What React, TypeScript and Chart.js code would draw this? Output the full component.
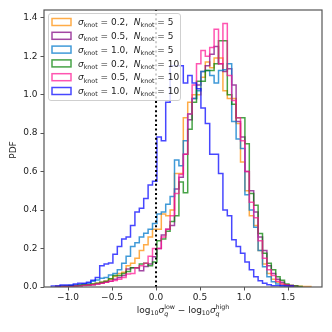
import React, { useEffect, useRef } from 'react';
import { Chart, registerables } from 'chart.js';

Chart.register(...registerables);

// ---------------- data ----------------
const BIN_WIDTH = 0.05;
const MAIN_START = -1.14; // first bin edge of the five narrower runs
const BLUE_START = -1.19; // first bin edge of sigma=1.0, N=10

const SIGMA_KNOT = ['0.2', '0.5', '1.0', '0.2', '0.5', '1.0'];
const N_KNOT = ['5', '5', '5', '10', '10', '10'];

const X_TICKS = [-1.0, -0.5, 0.0, 0.5, 1.0, 1.5];
const Y_TICKS = [0.0, 0.2, 0.4, 0.6, 0.8, 1.0, 1.2, 1.4];
const X_MIN = -1.273;
const X_MAX = 1.886;
const Y_MAX = 1.44;
const REF_LINE_X = 0.0;

const S02_N5 = [
  0.002, 0.003, 0.005, 0.005, 0.008, 0.01, 0.01, 0.012, 0.015, 0.02,
  0.025, 0.03, 0.04, 0.054, 0.07, 0.077, 0.11, 0.124, 0.15, 0.19,
  0.22, 0.26, 0.3, 0.3, 0.38, 0.37, 0.4, 0.59, 0.59, 0.88,
  0.96, 1.0, 1.0, 1.09, 1.17, 1.14, 1.19, 1.19, 1.02, 0.98,
  0.98, 0.85, 0.65, 0.5, 0.37, 0.32, 0.19, 0.12, 0.07, 0.04,
  0.025, 0.015, 0.01, 0.008, 0.005, 0.004, 0.003, 0.003,
];
const S05_N5 = [
  0.002, 0.003, 0.004, 0.005, 0.006, 0.008, 0.01, 0.01, 0.012, 0.015,
  0.02, 0.025, 0.03, 0.04, 0.05, 0.06, 0.094, 0.1, 0.1, 0.085,
  0.106, 0.12, 0.157, 0.2, 0.27, 0.3, 0.32, 0.51, 0.57, 0.69,
  0.87, 0.98, 1.05, 1.12, 1.15, 1.21, 1.25, 1.16, 1.12, 1.135,
  1.05, 0.86, 0.78, 0.6, 0.5, 0.39, 0.26, 0.19, 0.11, 0.07,
  0.04, 0.025, 0.012, 0.008, 0.005,
];
const S10_N5 = [
  0.003, 0.005, 0.005, 0.008, 0.01, 0.012, 0.015, 0.02, 0.03, 0.037,
  0.045, 0.05, 0.063, 0.07, 0.09, 0.124, 0.16, 0.21, 0.23, 0.26,
  0.28, 0.3, 0.33, 0.38, 0.39, 0.43, 0.47, 0.66, 0.63, 0.76,
  0.9, 0.98, 1.02, 1.12, 1.125, 1.1, 1.06, 1.125, 1.13, 1.16,
  0.86, 0.77, 0.72, 0.48, 0.4, 0.31, 0.19, 0.105, 0.053, 0.027,
  0.015, 0.008, 0.005, 0.003,
];
const S02_N10 = [
  0.002, 0.003, 0.003, 0.005, 0.005, 0.008, 0.01, 0.012, 0.015, 0.02,
  0.025, 0.03, 0.043, 0.06, 0.06, 0.07, 0.08, 0.1, 0.1, 0.12,
  0.124, 0.11, 0.13, 0.24, 0.25, 0.29, 0.34, 0.37, 0.546, 0.49,
  0.82, 0.96, 1.07, 1.07, 1.125, 1.125, 1.16, 1.28, 1.28, 1.0,
  0.95, 0.88, 0.88, 0.745, 0.486, 0.425, 0.278, 0.175, 0.123, 0.09,
  0.053, 0.035, 0.015, 0.008, 0.005, 0.003,
];
const S05_N10 = [
  0.002, 0.002, 0.003, 0.003, 0.005, 0.005, 0.008, 0.01, 0.012, 0.015,
  0.02, 0.025, 0.03, 0.034, 0.04, 0.05, 0.068, 0.07, 0.1, 0.11,
  0.124, 0.16, 0.2, 0.2, 0.26, 0.3, 0.37, 0.486, 0.585, 0.69,
  0.9, 1.05, 1.16, 1.23, 1.2, 1.245, 1.34, 1.16, 1.37, 1.1,
  0.97, 0.88, 0.76, 0.6, 0.44, 0.36, 0.24, 0.15, 0.09, 0.06,
  0.03, 0.015, 0.01, 0.005,
];
const S10_N10 = [
  0.005, 0.005, 0.01, 0.01, 0.01, 0.015, 0.02, 0.02, 0.025, 0.035,
  0.05, 0.11, 0.12, 0.125, 0.17, 0.21, 0.25, 0.26, 0.32, 0.39,
  0.41, 0.46, 0.53, 0.55, 0.78, 0.76, 0.96, 1.15, 1.15, 1.15,
  1.06, 1.1, 1.06, 1.03, 0.93, 0.85, 0.69, 0.69, 0.59, 0.4,
  0.37, 0.245, 0.21, 0.175, 0.13, 0.09, 0.053, 0.033, 0.02, 0.012,
  0.007, 0.007, 0.005, 0.005, 0.005,
];

const SERIES = [S02_N5, S05_N5, S10_N5, S02_N10, S05_N10, S10_N10];
const STARTS = [MAIN_START, MAIN_START, MAIN_START, MAIN_START, MAIN_START, BLUE_START];
const COLORS = [
  'rgba(255,140,0,0.72)',
  'rgba(128,0,128,0.72)',
  'rgba(10,125,205,0.78)',
  'rgba(0,128,0,0.72)',
  'rgba(255,20,147,0.72)',
  'rgba(0,0,255,0.72)',
];

const FONT = '"DejaVu Sans", sans-serif';
const TEXT = '#222';

function stepPoints(start: number, values: number[]) {
  const pts: { x: number; y: number }[] = [{ x: start, y: 0 }];
  values.forEach((v, i) => {
    pts.push({ x: start + i * BIN_WIDTH, y: v });
    pts.push({ x: start + (i + 1) * BIN_WIDTH, y: v });
  });
  pts.push({ x: start + values.length * BIN_WIDTH, y: 0 });
  return pts;
}

type Seg = { t: string; italic?: boolean; scale?: number; dy?: number; stack?: Seg[] };

function segFont(s: Seg, size: number) {
  return `${s.italic ? 'italic ' : ''}${(size * (s.scale ?? 1)).toFixed(2)}px ${FONT}`;
}

function segWidth(ctx: CanvasRenderingContext2D, s: Seg, size: number): number {
  if (s.stack) return Math.max(...s.stack.map((k) => segWidth(ctx, k, size)));
  ctx.font = segFont(s, size);
  return ctx.measureText(s.t).width;
}

function drawRich(ctx: CanvasRenderingContext2D, segs: Seg[], x: number, y: number, size: number, center: boolean) {
  const widths = segs.map((s) => segWidth(ctx, s, size));
  const total = widths.reduce((a, b) => a + b, 0);
  let cx = center ? x - total / 2 : x;
  ctx.textAlign = 'left';
  ctx.textBaseline = 'alphabetic';
  segs.forEach((s, i) => {
    const parts = s.stack ? s.stack : [s];
    parts.forEach((p) => {
      ctx.font = segFont(p, size);
      ctx.fillText(p.t, cx, y + (p.dy ?? 0));
    });
    cx += widths[i];
  });
}

const decorPlugin = {
  id: 'decor',
  afterDatasetsDraw(chart: any) {
    const { ctx, chartArea } = chart;
    const { left, right, top, bottom } = chartArea;
    ctx.save();
    // frame (spines)
    ctx.strokeStyle = '#555';
    ctx.lineWidth = 1.2;
    ctx.strokeRect(left, top, right - left, bottom - top);

    // legend
    const lx = 48, ly = 13, lw = 132, lh = 87;
    ctx.beginPath();
    ctx.roundRect(lx + 0.5, ly + 0.5, lw, lh, 2.5);
    ctx.fillStyle = 'rgba(255,255,255,0.8)';
    ctx.fill();
    ctx.strokeStyle = '#cfcfcf';
    ctx.lineWidth = 1;
    ctx.stroke();
    const size = 9;
    SIGMA_KNOT.forEach((sg, i) => {
      const cy = 22 + i * 13.8;
      ctx.strokeStyle = COLORS[i];
      ctx.lineWidth = 1.5;
      ctx.strokeRect(52, cy - 3.5, 19, 7);
      ctx.fillStyle = TEXT;
      drawRich(
        ctx,
        [
          { t: 'σ', italic: true },
          { t: 'knot', scale: 0.7, dy: 2.2 },
          { t: ' = ' + sg + ',  ' },
          { t: 'N', italic: true },
          { t: 'knot', scale: 0.7, dy: 2.2 },
          { t: ' = ' + N_KNOT[i] },
        ],
        78,
        cy + 3.2,
        size,
        false,
      );
    });

    // x title
    ctx.fillStyle = TEXT;
    const sigq = (sup: string): Seg[] => [
      { t: 'log' },
      { t: '10', scale: 0.7, dy: 2.4 },
      { t: 'σ', italic: true },
      { t: '', stack: [{ t: 'q', italic: true, scale: 0.7, dy: 2.8 }, { t: sup, scale: 0.7, dy: -4.2 }] },
    ];
    drawRich(ctx, [...sigq('low'), { t: ' − ' }, ...sigq('high')], (left + right) / 2, 313, 9, true);

    // y title
    ctx.save();
    ctx.translate(14, 150);
    ctx.rotate(-Math.PI / 2);
    ctx.font = `9px ${FONT}`;
    ctx.textAlign = 'center';
    ctx.textBaseline = 'middle';
    ctx.fillText('PDF', 0, 0);
    ctx.restore();
    ctx.restore();
  },
};

function fmt(v: number) {
  return (v < 0 ? '\u2212' : '') + Math.abs(v).toFixed(1);
}

export default function App() {
  const ref = useRef<HTMLCanvasElement>(null);
  useEffect(() => {
    const orders = [6, 5, 4, 3, 2, 1];
    const datasets: any[] = SERIES.map((vals, i) => ({
      label: `sigma=${SIGMA_KNOT[i]}, N=${N_KNOT[i]}`,
      data: stepPoints(STARTS[i], vals),
      borderColor: COLORS[i],
      borderWidth: 1.5,
      fill: false,
      pointRadius: 0,
      tension: 0,
      order: orders[i],
    }));
    datasets.push({
      label: 'zero',
      data: [
        { x: REF_LINE_X, y: 0 },
        { x: REF_LINE_X, y: Y_MAX },
      ],
      borderColor: '#000',
      borderWidth: 2,
      borderDash: [2, 2.6],
      fill: false,
      pointRadius: 0,
      order: 0,
    });
    const chart = new Chart(ref.current!, {
      type: 'line',
      data: { datasets },
      options: {
        responsive: false,
        devicePixelRatio: 1,
        animation: false,
        events: [],
        layout: { padding: { top: 10, right: 10, left: 0, bottom: 0 } },
        plugins: { legend: { display: false }, tooltip: { enabled: false } },
        scales: {
          x: {
            type: 'linear',
            min: X_MIN,
            max: X_MAX,
            afterBuildTicks: (s: any) => {
              s.ticks = X_TICKS.map((v) => ({ value: v }));
            },
            afterFit: (s: any) => {
              s.height = 45;
            },
            ticks: {
              callback: (v: any) => fmt(Number(v)),
              font: { family: FONT, size: 9 },
              color: TEXT,
              padding: 1.5,
              maxRotation: 0,
              autoSkip: false,
            },
            grid: { drawOnChartArea: false, drawTicks: true, tickLength: 3.5, tickWidth: 1, tickColor: '#555' },
            border: { display: false },
          },
          y: {
            type: 'linear',
            min: 0,
            max: Y_MAX,
            afterBuildTicks: (s: any) => {
              s.ticks = Y_TICKS.map((v) => ({ value: v }));
            },
            afterFit: (s: any) => {
              s.width = 44;
            },
            ticks: {
              callback: (v: any) => Number(v).toFixed(1),
              font: { family: FONT, size: 9 },
              color: TEXT,
              padding: 3,
              autoSkip: false,
            },
            grid: { drawOnChartArea: false, drawTicks: true, tickLength: 3.5, tickWidth: 1, tickColor: '#555' },
            border: { display: false },
          },
        },
      },
      plugins: [decorPlugin],
    } as any);
    return () => chart.destroy();
  }, []);
  return (
    <div style={{ position: 'absolute', left: 0, top: 0, width: 332, height: 332, background: '#fff' }}>
      <canvas ref={ref} width={332} height={332} style={{ width: 332, height: 332, display: 'block' }} />
    </div>
  );
}
